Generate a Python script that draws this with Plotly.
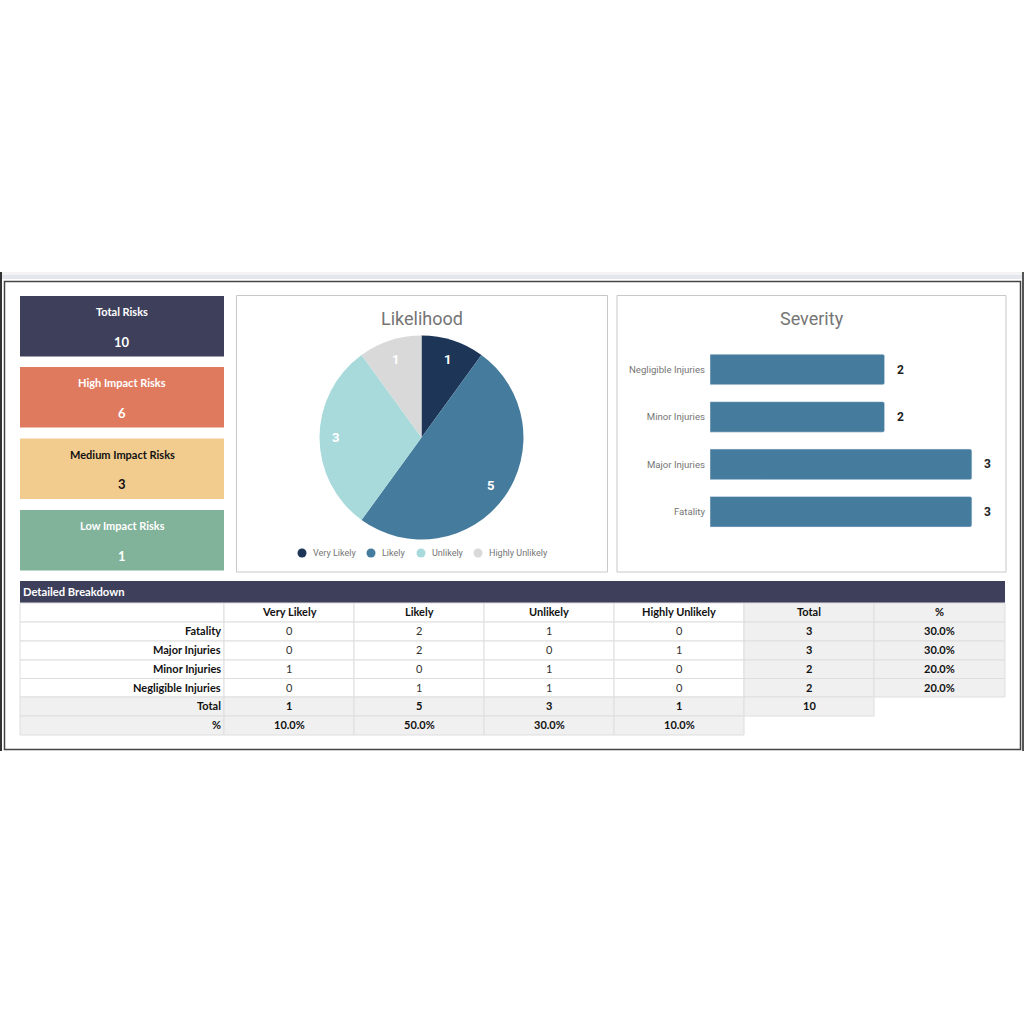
import numpy as np
import plotly.graph_objects as go

# kpi cards
card_titles = ["Total Risks", "High Impact Risks", "Medium Impact Risks", "Low Impact Risks"]
card_values = [10, 6, 3, 1]
card_colors = ["#3E405B", "#E07A5F", "#F2CC8F", "#81B29A"]
card_text = ["white", "white", "#111111", "white"]

# pie
likelihood = ["Very Likely", "Likely", "Unlikely", "Highly Unlikely"]
likelihood_counts = [1, 5, 3, 1]
pie_colors = ["#1D3557", "#457B9D", "#A8DADC", "#D9D9D9"]

# bars
severity = ["Fatality", "Major Injuries", "Minor Injuries", "Negligible Injuries"]
severity_counts = [3, 3, 2, 2]

# table
table_head = ["", "Very Likely", "Likely", "Unlikely", "Highly Unlikely", "Total", "%"]
row_labels = ["Fatality", "Major Injuries", "Minor Injuries", "Negligible Injuries", "Total", "%"]
col_very_likely = ["0", "0", "1", "0", "1", "10.0%"]
col_likely = ["2", "2", "0", "1", "5", "50.0%"]
col_unlikely = ["1", "0", "1", "1", "3", "30.0%"]
col_highly_unlikely = ["0", "1", "0", "0", "1", "10.0%"]
col_total = ["3", "3", "2", "2", "10", ""]
col_pct = ["30.0%", "30.0%", "20.0%", "20.0%", "", ""]

GREY = "#F0F0F0"
LINE = "#DEDEDE"
CARD_FONT = "Lato"
CHART_FONT = "Roboto"
COL_EDGES = [20, 224, 354, 484, 614, 744, 874, 1005]
ROW_EDGES = [603, 622, 641, 660, 678.5, 697, 716, 735]
LEGEND_DOTS = [302, 371, 421, 478]


def X(px):
    return px / 1024


def Y(py):
    return 1 - py / 1024


def rect(x0, y0, x1, y1, fill="rgba(0,0,0,0)", line=None, width=1):
    return dict(type="rect", xref="paper", yref="paper", x0=X(x0), x1=X(x1), y0=Y(y0), y1=Y(y1),
                fillcolor=fill, line=dict(color=line, width=width if line else 0), layer="below")


def label(x, y, text, size, color, font=CARD_FONT, xanchor="center"):
    return dict(xref="paper", yref="paper", x=X(x), y=Y(y), text=text, showarrow=False, xanchor=xanchor,
                yanchor="middle", borderpad=0, font=dict(family=font, size=size, color=color))


fig = go.Figure()

# pie
PIE_CX, PIE_CY, PIE_R = 421.5, 437.5, 102
fig.add_trace(go.Pie(labels=likelihood, values=likelihood_counts, sort=False, direction="clockwise",
                     rotation=0, marker=dict(colors=pie_colors, line=dict(width=0)), textinfo="none",
                     domain=dict(x=[X(PIE_CX - PIE_R), X(PIE_CX + PIE_R)], y=[Y(PIE_CY + PIE_R), Y(PIE_CY - PIE_R)]),
                     showlegend=False, hoverinfo="label+value"))

# bars
fig.add_trace(go.Bar(y=severity, x=severity_counts, orientation="h", marker=dict(color="#457B9D", cornerradius=2),
                     showlegend=False))

shapes = [
    # screenshot frame
    rect(0, 272, 1024, 275, fill="#F3F3F3"),
    rect(0, 275, 1024, 279, fill="#E3E6EC"),
    rect(0, 272, 2, 751, fill="#333333"),
    rect(1022, 272, 1024, 751, fill="#555555"),
    rect(4.5, 281.5, 1020.5, 749.5, line="#444444", width=1.5),
    # chart panels
    rect(236.5, 295.5, 607.5, 572, line="#C8C8C8"),
    rect(617, 295.5, 1006, 572, line="#C8C8C8"),
    # table banner
    rect(20, 581, 1005, 603, fill="#3E405B"),
]

annotations = [
    label(422, 318, "Likelihood", 18, "#757575", CHART_FONT),
    label(811.5, 318, "Severity", 18, "#757575", CHART_FONT),
    label(22, 591.5, "<b>Detailed Breakdown</b>", 11.2, "white", xanchor="left"),
]

card_tops = [296, 367, 438.5, 510]
for top, title, value, color, text_color in zip(card_tops, card_titles, card_values, card_colors, card_text):
    shapes.append(rect(20, top, 224, top + 60.5, fill=color))
    annotations.append(label(122, top + 15.5, f"<b>{title}</b>", 11, text_color))
    annotations.append(label(122, top + 45.5, f"<b>{value}</b>", 13, text_color))

# pie value labels, placed out near the rim
mid = (np.cumsum(likelihood_counts) - np.array(likelihood_counts) / 2) / np.sum(likelihood_counts) * 2 * np.pi
for angle, value in zip(mid, likelihood_counts):
    annotations.append(label(PIE_CX + 0.84 * PIE_R * np.sin(angle), PIE_CY - 0.8 * PIE_R * np.cos(angle),
                             f"<b>{value}</b>", 13, "white", CHART_FONT))

# legend with round dots
for x, name, color in zip(LEGEND_DOTS, likelihood, pie_colors):
    shapes.append(dict(type="circle", xref="paper", yref="paper", x0=X(x - 4.5), x1=X(x + 4.5), y0=Y(557.5),
                       y1=Y(548.5), fillcolor=color, line=dict(width=0)))
    annotations.append(label(x + 10, 553, name, 9, "#757575", CHART_FONT, xanchor="left"))

# bar value labels
for cat, value in zip(severity, severity_counts):
    annotations.append(dict(xref="x", yref="y", x=value, y=cat, text=f"<b>{value}</b>", showarrow=False,
                            xshift=16, font=dict(family=CHART_FONT, size=12, color="#222222")))

# table grid and text
table_cols = [table_head[i:i + 1] + col for i, col in enumerate(
    [row_labels, col_very_likely, col_likely, col_unlikely, col_highly_unlikely, col_total, col_pct])]
for c, col in enumerate(table_cols):
    for r, value in enumerate(col):
        blank = value == "" and c >= 5
        if blank:
            continue
        shaded = (r >= 5) or (c >= 5)
        shapes.append(rect(COL_EDGES[c], ROW_EDGES[r], COL_EDGES[c + 1], ROW_EDGES[r + 1],
                           fill=GREY if shaded else "white", line=LINE))
        if value == "":
            continue
        bold = r == 0 or c == 0 or shaded
        text = f"<b>{value}</b>" if bold else value
        y = (ROW_EDGES[r] + ROW_EDGES[r + 1]) / 2 - 0.7
        if c == 0:
            annotations.append(label(COL_EDGES[1] - 2, y, text, 11, "#111111", xanchor="right"))
        else:
            annotations.append(label((COL_EDGES[c] + COL_EDGES[c + 1]) / 2, y, text, 11,
                                     "#111111" if bold else "#333333"))

fig.update_layout(
    width=1024, height=1024, margin=dict(l=0, r=0, t=0, b=0), autosize=False,
    paper_bgcolor="white", plot_bgcolor="rgba(0,0,0,0)", showlegend=False,
    bargap=0.356, shapes=shapes, annotations=annotations,
    xaxis=dict(domain=[X(710), X(1006)], range=[0, 296 / 87.3], visible=False, fixedrange=True),
    yaxis=dict(domain=[Y(535.5), Y(345.8)], anchor="x", showgrid=False, zeroline=False, showline=False,
               ticks="", ticklabelstandoff=4, tickfont=dict(family=CHART_FONT, size=9.6, color="#757575"),
               fixedrange=True),
)

fig.write_html("out.html", config=dict(displayModeBar=False), post_script="document.body.style.margin='0';")
